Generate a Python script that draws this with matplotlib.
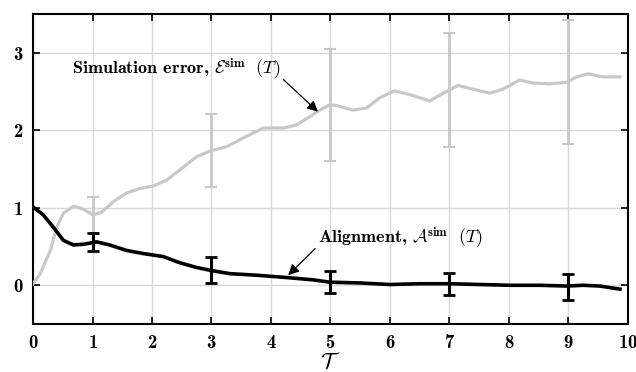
import numpy as np
import matplotlib
matplotlib.use("Agg")
import matplotlib.pyplot as plt

# simulation error curve (grey)
t_err = [0.0, 0.12, 0.29, 0.40, 0.51, 0.68, 0.82, 1.01, 1.15, 1.35, 1.57, 1.80, 2.02,
         2.25, 2.47, 2.75, 3.00, 3.26, 3.53, 3.87, 4.21, 4.43, 4.66, 4.82, 4.99,
         5.10, 5.38, 5.61, 5.83, 6.08, 6.34, 6.67, 6.90, 7.15, 7.40, 7.68, 7.90,
         8.18, 8.41, 8.69, 8.97, 9.14, 9.33, 9.58, 9.87]
v_err = [0.02, 0.15, 0.45, 0.75, 0.93, 1.02, 0.99, 0.91, 0.94, 1.08, 1.19, 1.25, 1.28,
         1.36, 1.49, 1.66, 1.74, 1.79, 1.90, 2.03, 2.03, 2.07, 2.18, 2.26, 2.33,
         2.32, 2.26, 2.29, 2.42, 2.51, 2.46, 2.38, 2.48, 2.58, 2.53, 2.48, 2.53,
         2.65, 2.61, 2.60, 2.62, 2.69, 2.73, 2.69, 2.69]

# alignment curve (black)
t_al = [0.0, 0.17, 0.34, 0.51, 0.68, 0.85, 1.07, 1.29, 1.57, 1.85, 2.19, 2.47, 2.75,
        3.00, 3.31, 3.76, 4.26, 4.71, 4.99, 5.50, 6.00, 6.50, 7.01, 7.51, 8.02,
        8.52, 8.97, 9.25, 9.53, 9.87]
v_al = [1.01, 0.91, 0.75, 0.58, 0.52, 0.53, 0.56, 0.52, 0.45, 0.41, 0.37, 0.29, 0.23,
        0.19, 0.15, 0.13, 0.10, 0.07, 0.04, 0.03, 0.01, 0.02, 0.02, 0.01, 0.00,
        0.00, -0.01, 0.00, -0.01, -0.05]

# error bars
eb_t = [1, 3, 5, 7, 9]
err_lo = [0.68, 1.27, 1.60, 1.79, 1.82]
err_hi = [1.14, 2.21, 3.05, 3.26, 3.42]
al_lo = [0.44, 0.03, -0.10, -0.13, -0.19]
al_hi = [0.67, 0.36, 0.19, 0.16, 0.15]

plt.rcParams['font.family'] = 'cmb10'
plt.rcParams['mathtext.fontset'] = 'cm'
plt.rcParams['axes.formatter.use_mathtext'] = True

fig = plt.figure(figsize=(6.36, 3.72), dpi=100)
ax = fig.add_axes([0.052, 0.129, 0.935, 0.833])

gray = '#c8c8c8'
ax.plot(t_err, v_err, color=gray, lw=2.3, zorder=3)
emid = [(a + b) / 2 for a, b in zip(err_lo, err_hi)]
ax.errorbar(eb_t, emid, yerr=[np.subtract(emid, err_lo), np.subtract(err_hi, emid)],
            fmt='none', ecolor=gray, elinewidth=2, capsize=4, capthick=1.5, zorder=3)

ax.plot(t_al, v_al, color='black', lw=2.6, zorder=4)
amid = [(a + b) / 2 for a, b in zip(al_lo, al_hi)]
ax.errorbar(eb_t, amid, yerr=[np.subtract(amid, al_lo), np.subtract(al_hi, amid)],
            fmt='none', ecolor='black', elinewidth=2.2, capsize=4, capthick=2, zorder=4)

ax.annotate(r'Simulation error, $\mathcal{E}^{\mathbf{sim}}\ \ (T)$',
            xy=(4.79, 2.24), xytext=(0.66, 2.72), fontsize=13,
            arrowprops=dict(arrowstyle='-|>', color='black', lw=0.9,
                            mutation_scale=16, shrinkA=0, shrinkB=0,
                            relpos=(1.0, 0.2)))
ax.annotate(r'Alignment, $\mathcal{A}^{\mathbf{sim}}\ \ (T)$',
            xy=(4.29, 0.13), xytext=(4.79, 0.54), fontsize=13,
            arrowprops=dict(arrowstyle='-|>', color='black', lw=0.9,
                            mutation_scale=16, shrinkA=0, shrinkB=0,
                            relpos=(0.0, 0.2)))

ax.set_xlim(0, 10)
ax.set_ylim(-0.5, 3.5)
ax.set_xticks(range(0, 11))
ax.set_yticks([0, 1, 2, 3])
ax.grid(True, color='#d9d9d9', lw=1)
ax.set_axisbelow(True)
ax.tick_params(direction='in', top=True, right=True, length=5, width=1.2,
               labelsize=13.5, pad=7)
for s in ax.spines.values():
    s.set_linewidth(1.5)
ax.set_xlabel(r'$\mathcal{T}$', fontsize=16, labelpad=0)

fig.savefig('out.png', dpi=100)
